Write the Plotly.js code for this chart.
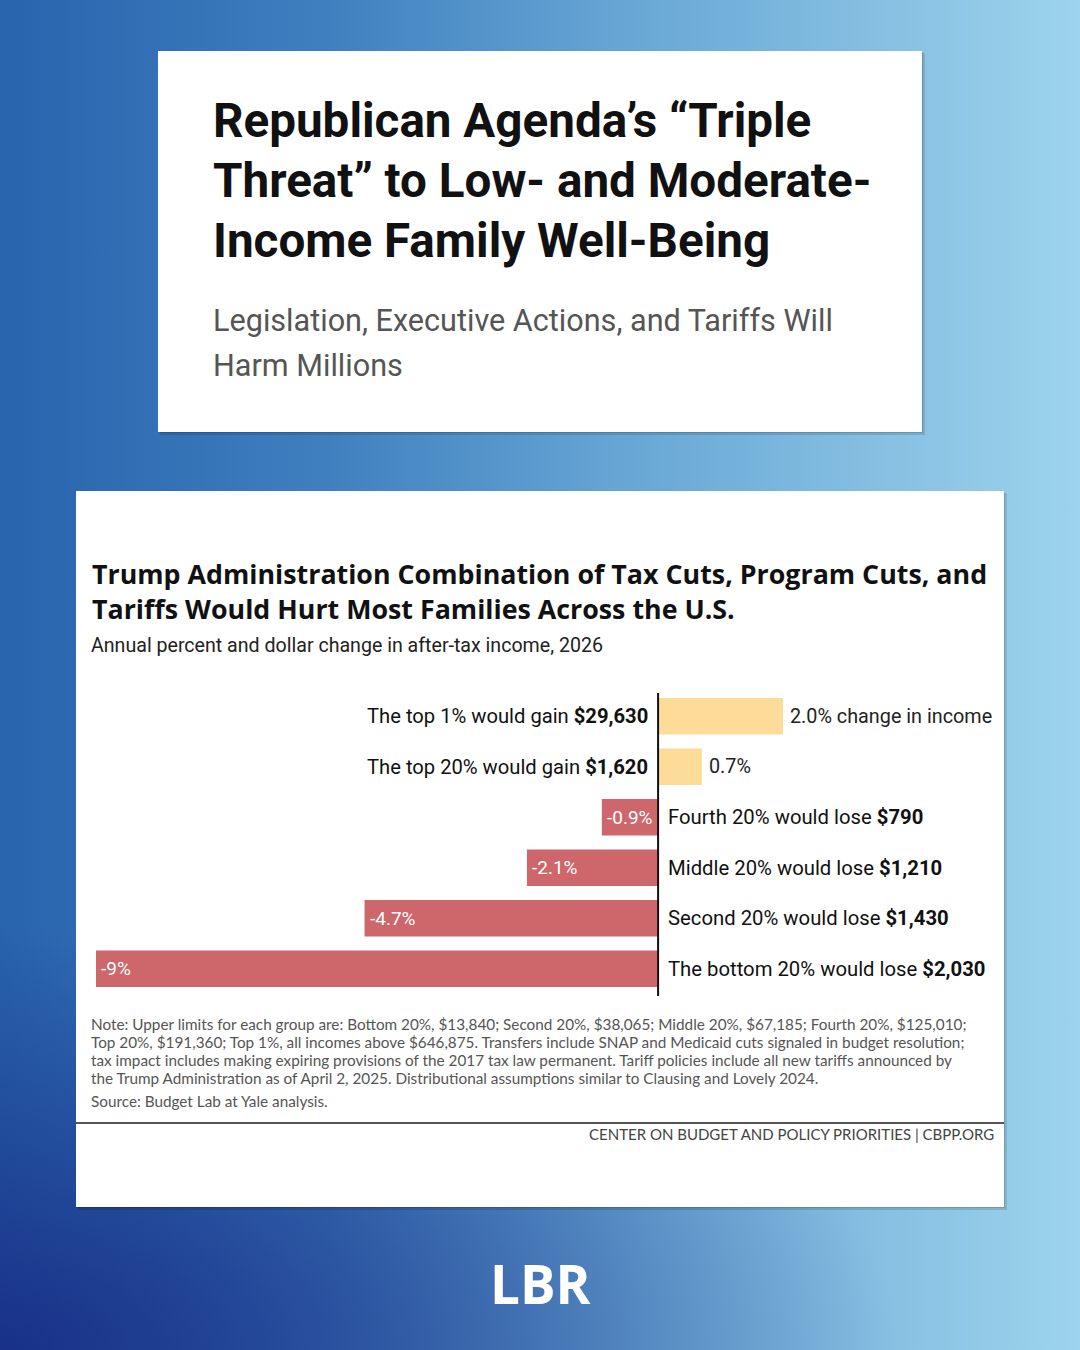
<!DOCTYPE html>
<html>
<head>
<meta charset="utf-8">
<script src="https://cdn.plot.ly/plotly-3.0.1.min.js"></script>
<style>
  html, body { margin: 0; padding: 0; width: 1080px; height: 1350px; overflow: hidden; }
  body {
    background:
      radial-gradient(ellipse 900px 420px at 0% 100%, rgba(22,40,130,0.85) 0%, rgba(22,40,130,0) 100%),
      linear-gradient(90deg, #2863ad 0%, #3f7fbf 30%, #6aa9d6 60%, #9dd3ec 100%);
  }
  #chart { width: 1080px; height: 1350px; }
</style>
</head>
<body>
<div id="chart"></div>
<script>
// ---- Data ----
const groups = ["The top 1%", "The top 20%", "Fourth 20%", "Middle 20%", "Second 20%", "The bottom 20%"];
const pctChange = [2.0, 0.7, -0.9, -2.1, -4.7, -9.0];
const dollarChange = [29630, 1620, -790, -1210, -1430, -2030];
const pctLabels = ["2.0% change in income", "0.7%", "-0.9%", "-2.1%", "-4.7%", "-9%"];

const headline = ["Republican Agenda\u2019s \u201cTriple", "Threat\u201d to Low- and Moderate-", "Income Family Well-Being"];
const deck = ["Legislation, Executive Actions, and Tariffs Will", "Harm Millions"];
const chartTitle = ["Trump Administration Combination of Tax Cuts, Program Cuts, and", "Tariffs Would Hurt Most Families Across the U.S."];
const chartSubtitle = "Annual percent and dollar change in after-tax income, 2026";
const noteLines = [
  "Note: Upper limits for each group are: Bottom 20%, $13,840; Second 20%, $38,065; Middle 20%, $67,185; Fourth 20%, $125,010;",
  "Top 20%, $191,360; Top 1%, all incomes above $646,875. Transfers include SNAP and Medicaid cuts signaled in budget resolution;",
  "tax impact includes making expiring provisions of the 2017 tax law permanent. Tariff policies include all new tariffs announced by",
  "the Trump Administration as of April 2, 2025. Distributional assumptions similar to Clausing and Lovely 2024."
];
const sourceLine = "Source: Budget Lab at Yale analysis.";
const footer = "CENTER ON BUDGET AND POLICY PRIORITIES | CBPP.ORG";
const brand = "LBR";

// ---- Helpers ----
const W = 1080, H = 1350;
const px = x => x / W;
const py = y => 1 - y / H;
const fmtMoney = v => "$" + Math.abs(v).toLocaleString("en-US");

const YELLOW = "#fddb98";
const RED = "#cd676b";
const narrow = "'Roboto', sans-serif";
const heading = "'Open Sans', 'Lato', sans-serif";
const body = "'Lato', sans-serif";

const trace = {
  type: "bar",
  orientation: "h",
  y: groups,
  x: pctChange,
  marker: { color: pctChange.map(v => v >= 0 ? YELLOW : RED), line: { width: 0 } },
  hoverinfo: "skip",
  showlegend: false
};

const annotations = [];

// bar labels
groups.forEach((g, i) => {
  const v = pctChange[i];
  const money = fmtMoney(dollarChange[i]);
  if (v >= 0) {
    annotations.push({ xref: "x", yref: "y", x: 0, y: g, xanchor: "right", yanchor: "middle", xshift: -8,
      text: `${g} would gain <b>${money}</b>`, showarrow: false, font: { family: narrow, size: 20.2, color: "#111" } });
    annotations.push({ xref: "x", yref: "y", x: v, y: g, xanchor: "left", yanchor: "middle", xshift: 5,
      text: pctLabels[i], showarrow: false, font: { family: narrow, size: 19.8, color: "#222" } });
  } else {
    annotations.push({ xref: "x", yref: "y", x: 0, y: g, xanchor: "left", yanchor: "middle", xshift: 8,
      text: `${g} would lose <b>${money}</b>`, showarrow: false, font: { family: narrow, size: 20.3, color: "#111" } });
    annotations.push({ xref: "x", yref: "y", x: v, y: g, xanchor: "left", yanchor: "middle", xshift: 3,
      text: pctLabels[i], showarrow: false, font: { family: narrow, size: 19, color: "#fff" } });
  }
});

// headline card
headline.forEach((t, i) => {
  annotations.push({ xref: "paper", yref: "paper", x: px(211), y: py(121 + i * 60), xanchor: "left", yanchor: "middle",
    text: `<b>${t}</b>`, showarrow: false, font: { family: narrow, size: 47.6, color: "#111" } });
});
deck.forEach((t, i) => {
  annotations.push({ xref: "paper", yref: "paper", x: px(211), y: py(320 + i * 46), xanchor: "left", yanchor: "middle",
    text: t, showarrow: false, font: { family: narrow, size: 30.6, color: "#555" } });
});

// chart title (two lines in one text)
annotations.push({ xref: "paper", yref: "paper", x: px(90), y: py(591), xanchor: "left", yanchor: "middle", align: "left",
  text: chartTitle.map(t => `<b>${t}</b>`).join("<br>"), showarrow: false, font: { family: heading, size: 26.8, color: "#111" } });
annotations.push({ xref: "paper", yref: "paper", x: px(89), y: py(645), xanchor: "left", yanchor: "middle",
  text: chartSubtitle, showarrow: false, font: { family: narrow, size: 19.6, color: "#222" } });

// notes
noteLines.forEach((t, i) => {
  annotations.push({ xref: "paper", yref: "paper", x: px(89), y: py(1024 + i * 18), xanchor: "left", yanchor: "middle",
    text: t, showarrow: false, font: { family: body, size: 15.3, color: "#555" } });
});
annotations.push({ xref: "paper", yref: "paper", x: px(89), y: py(1101), xanchor: "left", yanchor: "middle",
  text: sourceLine, showarrow: false, font: { family: body, size: 15.3, color: "#555" } });
annotations.push({ xref: "paper", yref: "paper", x: px(996), y: py(1134), xanchor: "right", yanchor: "middle",
  text: footer, showarrow: false, font: { family: body, size: 15, color: "#444" } });

// brand
annotations.push({ xref: "paper", yref: "paper", x: px(540), y: py(1283), xanchor: "center", yanchor: "middle",
  text: `<b>${brand}</b>`, showarrow: false, font: { family: "'Open Sans', 'Lato', sans-serif", size: 53, color: "#fff", weight: 800 } });

const rect = (x0, y0, x1, y1, color) => ({ type: "rect", xref: "paper", yref: "paper", layer: "below",
  x0: px(x0), x1: px(x1), y0: py(y1), y1: py(y0), fillcolor: color, line: { width: 0 } });

const shapes = [
  rect(160, 53, 925, 435, "rgba(0,0,0,0.12)"),
  rect(159, 52, 923, 433, "rgba(0,0,0,0.12)"),
  rect(158, 51, 922, 432, "#ffffff"),
  rect(78, 493, 1007, 1210, "rgba(0,0,0,0.12)"),
  rect(77, 492, 1005, 1208, "rgba(0,0,0,0.12)"),
  rect(76, 491, 1004, 1207, "#ffffff"),
  { type: "line", xref: "paper", yref: "paper", x0: px(76), x1: px(1004), y0: py(1123), y1: py(1123),
    line: { color: "#555", width: 2 } },
  { type: "line", xref: "x", yref: "paper", x0: 0, x1: 0, y0: py(693), y1: py(996),
    line: { color: "#111", width: 2 } }
];

const layout = {
  width: W, height: H,
  margin: { l: 0, r: 0, t: 0, b: 0 },
  paper_bgcolor: "rgba(0,0,0,0)",
  plot_bgcolor: "rgba(0,0,0,0)",
  bargap: 0.28,
  xaxis: { domain: [px(96), px(783)], range: [-9, 2.0], visible: false, fixedrange: true },
  yaxis: { domain: [py(994), py(691)], type: "category", autorange: "reversed", visible: false, fixedrange: true },
  shapes, annotations,
  showlegend: false
};

Plotly.newPlot("chart", [trace], layout, { displayModeBar: false, staticPlot: true });
</script>
</body>
</html>
